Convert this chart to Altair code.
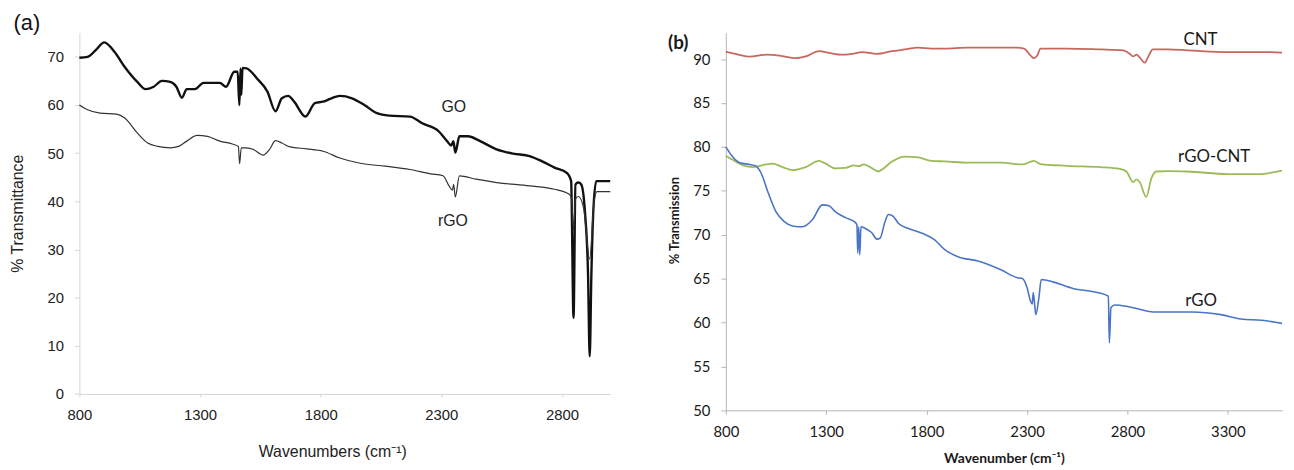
import altair as alt
import pandas as pd

# ---------------- Panel (a) data ----------------
go_wn = [800, 834, 870, 903, 946, 988, 1040, 1074, 1108, 1142, 1177, 1202, 1225, 1245, 1279,
         1314, 1382, 1408, 1442, 1456, 1463, 1468, 1471, 1476, 1493, 1536, 1579, 1613, 1639,
         1665, 1690, 1737, 1776, 1810, 1845, 1879, 1930, 1981, 2033, 2084, 2170, 2221, 2290,
         2324, 2341, 2350, 2358, 2375, 2410, 2461, 2529, 2598, 2666, 2718, 2769, 2820, 2838,
         2848, 2856, 2868, 2880, 2895, 2908, 2915, 2922, 2930, 2942, 3000]
go_t = [69.8, 70.0, 71.5, 73.0, 71.0, 67.9, 64.8, 63.3, 63.8, 65.0, 64.8, 63.8, 61.5, 63.3, 63.3,
        64.6, 64.6, 63.8, 66.9, 66.9, 60.0, 67.6, 62.1, 67.7, 67.6, 65.5, 62.8, 58.7, 61.4,
        61.9, 60.7, 57.6, 60.4, 60.7, 61.4, 61.9, 61.4, 60.0, 58.3, 57.8, 57.6, 56.2, 54.5,
        52.5, 51.6, 52.5, 50.1, 53.5, 53.5, 52.5, 50.8, 49.9, 49.4, 48.3, 47.0, 45.9, 44.2,
        15.8, 43.5, 43.9, 43.5, 38.0, 25.0, 7.8, 25.0, 38.0, 44.2, 44.2]

rgo_a_wn = [800, 834, 886, 954, 988, 1040, 1083, 1125, 1177, 1211, 1245, 1288, 1331, 1382,
            1434, 1459, 1464, 1471, 1485, 1519, 1562, 1588, 1613, 1639, 1673, 1742, 1810,
            1879, 1964, 2067, 2170, 2255, 2307, 2332, 2346, 2351, 2358, 2375, 2444, 2529,
            2666, 2769, 2829, 2840, 2848, 2856, 2868, 2890, 2915, 2932, 2945, 3000]
rgo_a_t = [60.0, 59.0, 58.3, 58.1, 57.3, 54.2, 52.1, 51.4, 51.1, 51.4, 52.5, 53.7, 53.5, 52.5,
           51.9, 51.4, 47.8, 51.1, 51.1, 50.8, 49.6, 50.8, 52.6, 52.1, 51.3, 50.9, 50.4,
           49.0, 47.9, 47.3, 46.6, 45.7, 45.3, 43.2, 42.3, 43.5, 40.9, 45.3, 44.6, 43.9,
           43.2, 42.5, 41.5, 40.5, 34.0, 40.5, 41.0, 38.5, 28.0, 39.5, 42.0, 42.0]

a_label_text = ["GO", "rGO"]
a_label_wn = [2352, 2348]
a_label_t = [59.5, 36.0]

# ---------------- Panel (b) data ----------------
cnt_wn = [800, 853, 918, 1001, 1067, 1149, 1198, 1264, 1314, 1379, 1429, 1478, 1552, 1626,
          1692, 1758, 1824, 1890, 2005, 2252, 2285, 2318, 2334, 2351, 2367, 2499, 2664, 2779,
          2812, 2828, 2845, 2861, 2886, 2902, 2927, 3001, 3100, 3300, 3500, 3570]
cnt_t = [90.84, 90.58, 90.28, 90.5, 90.4, 90.1, 90.3, 90.9, 90.7, 90.5, 90.6, 90.8, 90.6, 90.9,
         91.1, 91.3, 91.2, 91.2, 91.3, 91.3, 91.2, 90.4, 90.1, 90.4, 91.2, 91.2, 91.1, 91.0,
         90.6, 90.3, 90.5, 90.2, 89.6, 90.2, 91.1, 91.1, 91.0, 90.8, 90.8, 90.75]

rgocnt_wn = [800, 836, 886, 935, 1001, 1034, 1083, 1132, 1198, 1264, 1297, 1346, 1396, 1437,
             1462, 1486, 1519, 1560, 1585, 1626, 1692, 1758, 1824, 1890, 2005, 2170, 2277,
             2334, 2367, 2499, 2664, 2762, 2795, 2828, 2845, 2861, 2894, 2919, 2944, 3001,
             3100, 3300, 3450, 3570]
rgocnt_t = [79.0, 78.5, 77.9, 77.7, 78.0, 78.1, 77.7, 77.35, 77.7, 78.4, 78.1, 77.55, 77.6, 77.9,
            77.8, 78.0, 77.7, 77.2, 77.55, 78.3, 78.9, 78.8, 78.4, 78.35, 78.2, 78.2, 78.0,
            78.4, 78.05, 77.85, 77.7, 77.5, 77.2, 76.0, 76.3, 76.0, 74.3, 76.4, 77.2, 77.25,
            77.2, 76.9, 76.9, 77.3]

rgo_b_wn = [800, 828, 869, 918, 951, 976, 1009, 1050, 1091, 1132, 1182, 1231, 1281, 1314, 1346,
            1396, 1445, 1453, 1457, 1462, 1467, 1473, 1495, 1528, 1552, 1568, 1593, 1610, 1634,
            1659, 1709, 1774, 1840, 1890, 1956, 2055, 2170, 2252, 2277, 2301, 2318, 2326, 2331,
            2338, 2344, 2359, 2371, 2433, 2532, 2631, 2705, 2710, 2718, 2738, 2795, 2861, 2927,
            3001, 3122, 3265, 3366, 3469, 3570]
rgo_b_t = [80.0, 79.05, 78.2, 78.0, 77.8, 77.0, 74.9, 72.6, 71.5, 71.0, 70.9, 71.7, 73.4, 73.3, 72.6,
           71.95, 71.4, 71.1, 67.9, 70.9, 67.7, 70.9, 70.7, 70.2, 69.5, 69.6, 71.5, 72.3, 72.1,
           71.3, 70.7, 70.2, 69.4, 68.3, 67.5, 67.0, 66.0, 65.1, 65.0, 63.9, 62.4, 62.1, 63.4,
           62.05, 60.9, 62.8, 64.9, 64.6, 63.85, 63.5, 63.0, 57.7, 61.7, 62.0, 61.85, 61.5, 61.2,
           61.2, 61.2, 60.9, 60.4, 60.25, 59.9]

b_label_text = ["CNT", "rGO-CNT", "rGO"]
b_label_wn = [3164, 3232, 3167]
b_label_t = [92.2, 78.8, 62.4]

ARIAL = "Liberation Sans"
CAL = "Lato"

# ---------------- Panel (a) ----------------
xa_scale = alt.Scale(domain=[800, 3000], nice=False, zero=False)
ya_scale = alt.Scale(domain=[0, 75], nice=False, zero=False)
xa_axis = alt.Axis(values=[800, 1300, 1800, 2300, 2800], format="d", labelFlush=False,
                   labelOverlap=False, grid=False, domainColor="#d6d6d6",
                   tickColor="#d6d6d6", tickSize=3, labelFont=ARIAL, labelFontSize=15,
                   labelColor="#222222", labelBaseline="middle", labelPadding=18,
                   title="Wavenumbers (cm⁻¹)", titleFont=ARIAL, titleFontSize=16,
                   titleFontWeight="normal", titleColor="#222222", titleX=255, titleY=58,
                   titleAlign="center", titleBaseline="middle")
ya_axis = alt.Axis(values=[0, 10, 20, 30, 40, 50, 60, 70], format="d", labelFlush=False,
                   grid=False, domainColor="#d6d6d6",
                   tickColor="#d6d6d6", tickSize=5, labelFont=ARIAL, labelFontSize=15,
                   labelColor="#222222", labelPadding=11,
                   title="% Transmittance", titleFont=ARIAL, titleFontSize=16,
                   titleFontWeight="normal", titleColor="#222222", titleX=-62, titleY=182,
                   titleAlign="center", titleBaseline="middle", titleAngle=270)

xa = alt.X("wn:Q", scale=xa_scale, axis=xa_axis)
ya = alt.Y("t:Q", scale=ya_scale, axis=ya_axis)

go_df = pd.DataFrame({"wn": go_wn, "t": go_t})
rgoa_df = pd.DataFrame({"wn": rgo_a_wn, "t": rgo_a_t})
alab_df = pd.DataFrame({"wn": a_label_wn, "t": a_label_t, "label": a_label_text})
one = pd.DataFrame({"k": ["(a)"]})
oneb = pd.DataFrame({"k": ["(b)"]})

go_line = alt.Chart(go_df).mark_line(color="#111111", strokeWidth=2.4, interpolate="monotone").encode(x=xa, y=ya)
rgoa_line = alt.Chart(rgoa_df).mark_line(color="#333333", strokeWidth=1.2, interpolate="monotone").encode(x=xa, y=ya)
alab = alt.Chart(alab_df).mark_text(font=ARIAL, fontSize=16, color="#222222", align="center",
                                    baseline="middle").encode(x=xa, y=ya, text="label:N")
atag = alt.Chart(one).mark_text(font=ARIAL, fontSize=22, color="#111111", align="center",
                                baseline="middle").encode(x=alt.value(-53), y=alt.value(-10), text="k:N")
anchor = alt.Chart(one).mark_rule(opacity=0).encode(x=alt.value(-71.2), x2=alt.value(-70.2), y=alt.value(-22.7))

left = alt.layer(go_line, rgoa_line, alab, atag, anchor).properties(width=535.4, height=364.3)

# ---------------- Panel (b) ----------------
xb_scale = alt.Scale(domain=[800, 3570], nice=False, zero=False)
yb_scale = alt.Scale(domain=[50, 93], nice=False, zero=False)
xb_axis = alt.Axis(values=[800, 1300, 1800, 2300, 2800, 3300], format="d", labelFlush=False,
                   labelOverlap=False, grid=False, domainColor="#b5b5b5",
                   tickColor="#b5b5b5", tickSize=4, labelFont=CAL, labelFontSize=15,
                   labelColor="#1a1a1a", labelBaseline="middle", labelPadding=17,
                   title="Wavenumber (cm⁻¹)", titleFont=CAL, titleFontSize=14,
                   titleFontWeight="bold", titleColor="#1a1a1a", titleX=280.5, titleY=49,
                   titleAlign="center", titleBaseline="middle")
yb_axis = alt.Axis(values=[50, 55, 60, 65, 70, 75, 80, 85, 90], format="d", labelFlush=False,
                   grid=False, domainColor="#b5b5b5",
                   tickColor="#b5b5b5", tickSize=5, labelFont=CAL, labelFontSize=15,
                   labelColor="#1a1a1a", labelPadding=11,
                   title="% Transmission", titleFont=CAL, titleFontSize=13,
                   titleFontWeight="bold", titleColor="#1a1a1a", titleX=-52, titleY=189,
                   titleAlign="center", titleBaseline="middle", titleAngle=270)

xb = alt.X("wn:Q", scale=xb_scale, axis=xb_axis)
yb = alt.Y("t:Q", scale=yb_scale, axis=yb_axis)

cnt_df = pd.DataFrame({"wn": cnt_wn, "t": cnt_t})
rgocnt_df = pd.DataFrame({"wn": rgocnt_wn, "t": rgocnt_t})
rgob_df = pd.DataFrame({"wn": rgo_b_wn, "t": rgo_b_t})
blab_df = pd.DataFrame({"wn": b_label_wn, "t": b_label_t, "label": b_label_text})

cnt_line = alt.Chart(cnt_df).mark_line(color="#c8675e", strokeWidth=1.8, interpolate="monotone").encode(x=xb, y=yb)
rgocnt_line = alt.Chart(rgocnt_df).mark_line(color="#9bbb59", strokeWidth=1.8, interpolate="monotone").encode(x=xb, y=yb)
rgob_line = alt.Chart(rgob_df).mark_line(color="#4a74c6", strokeWidth=1.6, interpolate="monotone").encode(x=xb, y=yb)
blab = alt.Chart(blab_df).mark_text(font=CAL, fontSize=17, color="#1a1a1a", align="center",
                                    baseline="middle").encode(x=xb, y=yb, text="label:N")
btag = alt.Chart(oneb).mark_text(font=CAL, fontSize=19, fontWeight="bold", color="#1a1a1a", align="center",
                                 baseline="middle").encode(x=alt.value(-48), y=alt.value(10), text="k:N")

right = alt.layer(cnt_line, rgocnt_line, rgob_line, blab, btag).properties(width=561, height=380.8)

chart = alt.hconcat(left, right, spacing=116, bounds="flush").configure_view(stroke=None).properties(padding=0)

chart.save("out.html", embed_options={"renderer": "svg", "actions": False})
